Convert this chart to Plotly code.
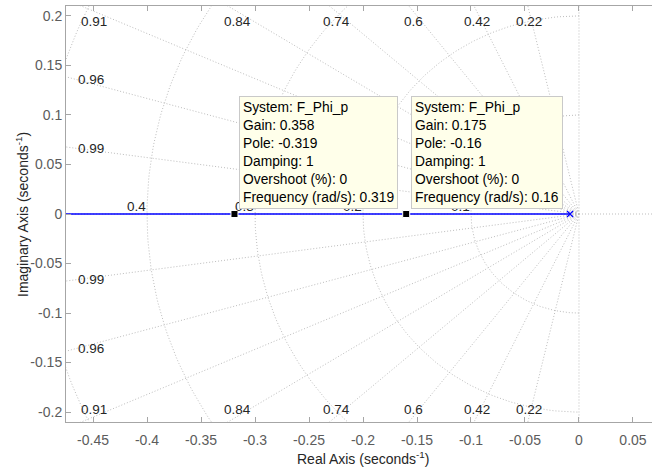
import numpy as np
import plotly.graph_objects as go

# ---------------- data ----------------
system_name = "F_Phi_p"
open_loop_pole = -0.0083          # pole where the locus starts (blue x)
locus_far_end = -0.8              # locus continues along the negative real axis
tip_gain = [0.358, 0.175]
tip_pole = [-0.319, -0.16]
tip_damping = [1, 1]
tip_overshoot = [0, 0]
tip_freq = [0.319, 0.16]

damping_values = [0.22, 0.42, 0.6, 0.74, 0.84, 0.91, 0.96, 0.99]
damping_labels = ["0.22", "0.42", "0.6", "0.74", "0.84", "0.91", "0.96", "0.99"]
wn_values = [0.1, 0.2, 0.3, 0.4, 0.5]
wn_labels = ["0.1", "0.2", "0.3", "0.4", "0.5"]

x_ticks = [-0.45, -0.4, -0.35, -0.3, -0.25, -0.2, -0.15, -0.1, -0.05, 0, 0.05]
x_tick_text = ["-0.45", "-0.4", "-0.35", "-0.3", "-0.25", "-0.2", "-0.15", "-0.1", "-0.05", "0", "0.05"]
y_ticks = [-0.2, -0.15, -0.1, -0.05, 0, 0.05, 0.1, 0.15, 0.2]
y_tick_text = ["-0.2", "-0.15", "-0.1", "-0.05", "0", "0.05", "0.1", "0.15", "0.2"]

x_range = [-0.475, 0.0676]
y_range = [-0.21, 0.21]

# ---------------- styles ----------------
FONT = "Liberation Sans, Arial, Helvetica, sans-serif"
GRID = dict(color="#bdbdbd", width=1, dash="1px,2px")
AXC = "#a6a6a6"
TICKC = "#5c5c5c"
TXT = "#262626"

fig = go.Figure()

# damping lines (s-grid)
for z in damping_values:
    th = np.arccos(z)
    R = 2.0
    for sgn in (1, -1):
        fig.add_trace(go.Scatter(x=[0, -R * np.cos(th)], y=[0, sgn * R * np.sin(th)],
                                 mode="lines", line=GRID, hoverinfo="skip", showlegend=False))
# zeta = 0 (imaginary axis) and zeta = 1 (real axis)
fig.add_trace(go.Scatter(x=[0, 0], y=[-1, 1], mode="lines", line=GRID, hoverinfo="skip", showlegend=False))
fig.add_trace(go.Scatter(x=[-1, 1], y=[0, 0], mode="lines", line=GRID, hoverinfo="skip", showlegend=False))

# natural-frequency circles (left half plane)
phi = np.linspace(np.pi / 2, 3 * np.pi / 2, 200)
for wn in wn_values:
    fig.add_trace(go.Scatter(x=wn * np.cos(phi), y=wn * np.sin(phi), mode="lines", line=GRID,
                             hoverinfo="skip", showlegend=False))

# root locus branch
fig.add_trace(go.Scatter(x=[locus_far_end, open_loop_pole], y=[0, 0], mode="lines",
                         line=dict(color="#0000ff", width=1.3), showlegend=False, hoverinfo="skip"))
fig.add_trace(go.Scatter(x=[open_loop_pole], y=[0], mode="markers",
                         marker=dict(symbol="x-thin", size=6, line=dict(color="#0000ff", width=1.3)),
                         showlegend=False, hoverinfo="skip"))
# data tip markers
fig.add_trace(go.Scatter(x=tip_pole, y=[0] * len(tip_pole), mode="markers",
                         marker=dict(symbol="square", size=7, color="black",
                                     line=dict(color="white", width=1)),
                         showlegend=False, hoverinfo="skip"))

annotations = []
# damping labels
xmin = x_range[0]
for z, lab in zip(damping_values, damping_labels):
    th = np.arccos(z)
    t = np.tan(th)
    if -y_range[1] / t > xmin:   # exits through top/bottom
        xl = -0.2045 / t
        for yl in (0.194, -0.197):
            annotations.append(dict(x=xl, y=yl, xref="x", yref="y", text=lab, showarrow=False,
                                    xanchor="center", yanchor="middle",
                                    font=dict(family=FONT, size=13.5, color=TXT)))
    else:                        # exits through left side
        x0 = -0.4655
        for sgn in (1, -1):
            annotations.append(dict(x=x0, y=sgn * (-x0) * t, xref="x", yref="y", text=lab,
                                    showarrow=False, xanchor="left", yanchor="middle",
                                    font=dict(family=FONT, size=13.5, color=TXT)))
# frequency labels on the real axis
for wn, lab in zip(wn_values, wn_labels):
    if -wn - 0.01 > xmin:
        annotations.append(dict(x=-wn - 0.01, y=0.0075, xref="x", yref="y", text=lab, showarrow=False,
                                xanchor="center", yanchor="middle",
                                font=dict(family=FONT, size=13.5, color=TXT)))

# data tips
for g, p, d, o, f in zip(tip_gain, tip_pole, tip_damping, tip_overshoot, tip_freq):
    txt = "<br>".join([
        f"System: {system_name}",
        f"Gain: {g}",
        f"Pole: {p}",
        f"Damping: {d}",
        f"Overshoot (%): {o}",
        f"Frequency (rad/s): {f}",
    ])
    annotations.append(dict(x=p, y=0, xref="x", yref="y", text=txt, showarrow=False,
                            xanchor="left", yanchor="bottom", xshift=5, yshift=5, align="left",
                            bgcolor="#ffffea", bordercolor="#c9c9c9", borderwidth=1, borderpad=3,
                            font=dict(family=FONT, size=13.8, color="black")))

# axis titles
annotations.append(dict(x=(x_range[0] + 0.075) / 2, y=-(458 - 422) / 416.0, xref="x", yref="paper",
                        text="Real Axis (seconds<sup>-1</sup>)", showarrow=False,
                        xanchor="center", yanchor="middle",
                        font=dict(family=FONT, size=14, color=TXT)))
annotations.append(dict(x=-(66 - 22) / 586.0, y=0.5, xref="paper", yref="paper",
                        text="Imaginary Axis (seconds<sup>-1</sup>)", showarrow=False,
                        textangle=-90, xanchor="center", yanchor="middle",
                        font=dict(family=FONT, size=14, color=TXT)))

fig.update_layout(
    width=652, height=469,
    margin=dict(l=66, r=0, t=6, b=47),
    paper_bgcolor="white", plot_bgcolor="white",
    showlegend=False,
    annotations=annotations,
    xaxis=dict(range=x_range, tickvals=x_ticks, ticktext=x_tick_text, showgrid=False, zeroline=False,
               showline=True, linecolor=AXC, linewidth=1, mirror="ticks", ticks="inside", ticklen=5,
               tickcolor=AXC, tickfont=dict(family=FONT, size=14, color=TICKC), ticklabelstandoff=5),
    yaxis=dict(range=y_range, tickvals=y_ticks, ticktext=y_tick_text, showgrid=False, zeroline=False,
               showline=True, linecolor=AXC, linewidth=1, ticks="inside", ticklen=5,
               tickcolor=AXC, tickfont=dict(family=FONT, size=14, color=TICKC)),
)

fig.write_html("out.html", config={"displayModeBar": False},
               post_script="document.body.style.margin='0';document.body.style.overflow='hidden';")
